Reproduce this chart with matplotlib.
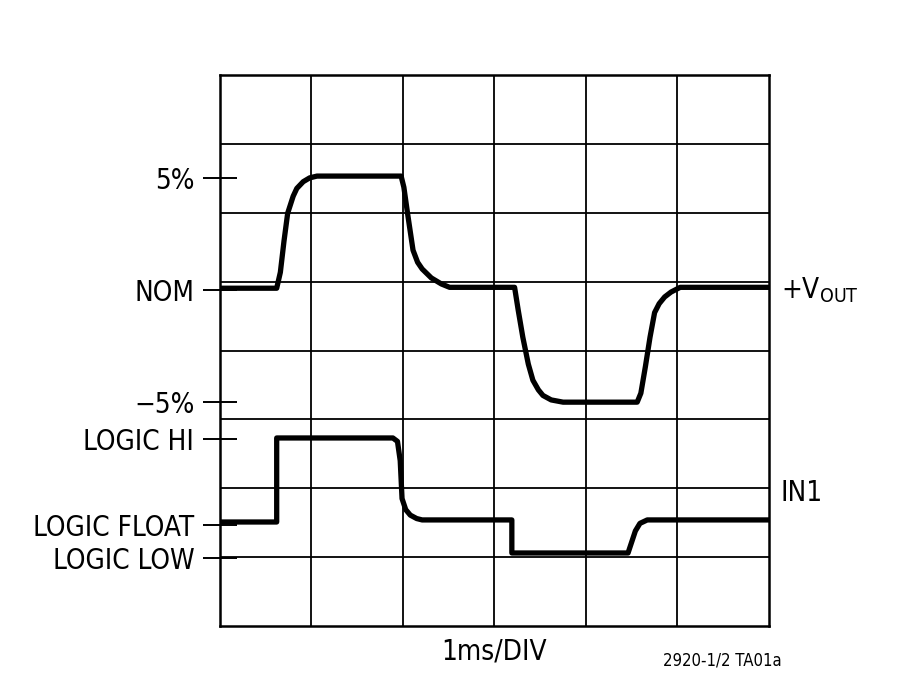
import matplotlib.pyplot as plt

# time axis in ms (1ms/DIV, 6 divisions)
vout_t = [0.0, 0.62, 0.66, 0.70, 0.74, 0.80, 0.84, 0.91, 0.98, 1.06, 1.98, 2.01, 2.05, 2.11,
          2.16, 2.21, 2.31, 2.42, 2.51, 3.22, 3.26, 3.31, 3.37, 3.42, 3.48, 3.53, 3.62, 3.75,
          4.56, 4.60, 4.65, 4.70, 4.75, 4.80, 4.86, 4.93, 5.03, 6.0]
# output deviation in percent of nominal
vout_pct = [0.09, 0.09, 0.8, 2.2, 3.44, 4.2, 4.55, 4.85, 5.02, 5.1, 5.1, 4.6, 3.44, 1.79,
            1.25, 0.95, 0.55, 0.28, 0.13, 0.13, -0.9, -2.1, -3.3, -4.02, -4.45, -4.7, -4.9, -5.0,
            -5.0, -4.6, -3.4, -2.1, -1.0, -0.6, -0.3, -0.08, 0.13, 0.13]

# logic input trace, in grid divisions
in1_t = [0.0, 0.62, 0.62, 1.89, 1.94, 1.97, 1.99, 2.03, 2.08, 2.15, 2.21, 3.19, 3.19,
         4.46, 4.50, 4.54, 4.59, 4.67, 6.0]
in1_y = [1.51, 1.51, 2.73, 2.73, 2.68, 2.4, 1.85, 1.69, 1.61, 1.56, 1.54, 1.54, 1.06,
         1.06, 1.22, 1.38, 1.49, 1.54, 1.54]

tick_pos = [6.5, 4.875, 3.25, 2.71, 1.47, 0.99]
tick_labels = ["5%", "NOM", "\u22125%", "LOGIC HI", "LOGIC FLOAT", "LOGIC LOW"]

NOM = 4.875
DIV_PER_PCT = 1.625 / 5

plt.rcParams['font.family'] = ['DejaVu Sans']
plt.rcParams['font.stretch'] = 'condensed'

fig = plt.figure(figsize=(9, 6.87), dpi=100)
ax = fig.add_axes([0.2444, 0.0888, 0.61, 0.802])

for i in range(1, 6):
    ax.axvline(i, color='black', lw=1.3, zorder=1)
for j in range(1, 8):
    ax.axhline(j, color='black', lw=1.3, zorder=1)

vout_y = [NOM + p * DIV_PER_PCT for p in vout_pct]
ax.plot(vout_t, vout_y, color='black', lw=3.8, solid_joinstyle='round', zorder=3)
ax.plot(in1_t, in1_y, color='black', lw=3.8, solid_joinstyle='round', zorder=3)

ax.set_xlim(0, 6)
ax.set_ylim(0, 8)
ax.set_xticks([])
ax.set_yticks(tick_pos)
ax.set_yticklabels(tick_labels, fontsize=20)
ax.tick_params(axis='y', direction='inout', length=25, width=1.4, pad=6)
for s in ax.spines.values():
    s.set_linewidth(1.8)

ax.set_xlabel("1ms/DIV", fontsize=20, labelpad=8)
ax.text(6.13, NOM, "+V$_{\\mathregular{OUT}}$", fontsize=20, va='center', ha='left')
ax.text(6.13, 1.93, "IN1", fontsize=20, va='center', ha='left')
fig.text(0.869, 0.038, "2920-1/2 TA01a", fontsize=12, ha='right', va='center')

fig.savefig("out.png", dpi=100)
